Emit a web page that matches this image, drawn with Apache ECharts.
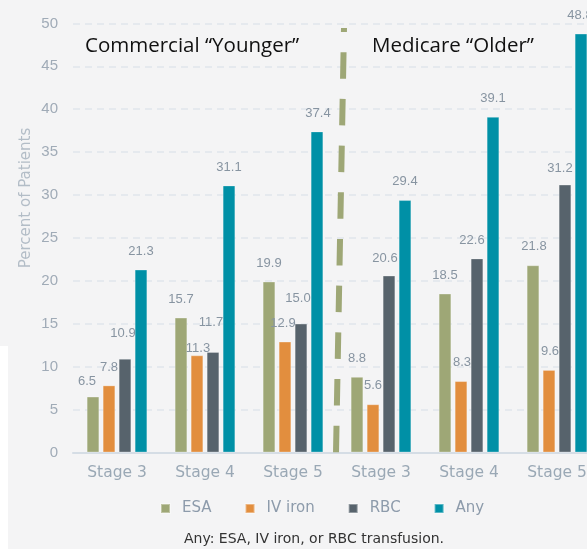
<!DOCTYPE html>
<html>
<head>
<meta charset="utf-8">
<script src="https://cdn.jsdelivr.net/npm/echarts@6/dist/echarts.min.js"></script>
<style>
html,body{margin:0;padding:0;background:#f4f4f5;}
#chart{width:587px;height:549px;}
</style>
</head>
<body>
<div id="chart"></div>
<script>
// ---- data ----
const categories = ['Stage 3', 'Stage 4', 'Stage 5', 'Stage 3', 'Stage 4', 'Stage 5'];
const seriesNames = ['ESA', 'IV iron', 'RBC', 'Any'];
const esa    = [6.5, 15.7, 19.9, 8.8, 18.5, 21.8];
const ivIron = [7.8, 11.3, 12.9, 5.6, 8.3, 9.6];
const rbc    = [10.9, 11.7, 15.0, 20.6, 22.6, 31.2];
const any    = [21.3, 31.1, 37.4, 29.4, 39.1, 48.8];
const yTicks = [0, 5, 10, 15, 20, 25, 30, 35, 40, 45, 50];
const groupTitles = ['Commercial \u201cYounger\u201d', 'Medicare \u201cOlder\u201d'];
const footnote = 'Any: ESA, IV iron, or RBC transfusion.';

// ---- label nudges (layout only) ----
const labelNudge = [
  [[-6, 3], [0, 0], [0, 0], [0, 0], [0, 0], [1, 0]],
  [[0, 0], [1, 11], [-2, 0], [0, 0], [1, 0], [1, 0]],
  [[-2, -7], [-2, -11], [-3, -7], [-4, 1], [-5, 0], [-5, 2]],
  [[0, 0], [0, 0], [1, 0], [0, 0], [0, 0], [-1, 0]]
];
const colors = ['#9ea776', '#e28e3e', '#57636c', '#0090a6'];
const values = [esa, ivIron, rbc, any];

const series = values.map((vals, si) => ({
  name: seriesNames[si],
  type: 'bar',
  barWidth: 12.5,
  barGap: '28%',
  itemStyle: { color: colors[si], borderColor: 'rgba(255,255,255,0.35)', borderWidth: 0.8 },
  label: {
    show: true, position: 'top', distance: 12,
    color: '#8794a1', fontSize: 13, fontFamily: 'Liberation Sans',
    formatter: p => Number(p.value).toFixed(1)
  },
  data: vals.map((v, i) => ({ value: v, label: { offset: labelNudge[si][i] } }))
}));

const chart = echarts.init(document.getElementById('chart'), null, { renderer: 'canvas' });
chart.setOption({
  backgroundColor: '#f4f4f5',
  animation: false,
  color: colors,
  grid: { left: 73, top: 23.4, width: 528, bottom: 96.6, containLabel: false, outerBoundsMode: 'none' },
  legend: {
    data: seriesNames, left: 160, top: 501, selectedMode: false, padding: 0,
    icon: 'rect', itemWidth: 9, itemHeight: 9, itemGap: 33,
    textStyle: { color: '#8d9bab', fontSize: 15, fontFamily: 'DejaVu Sans', padding: [0, 0, 0, 7] }
  },
  xAxis: {
    type: 'category', data: categories,
    axisTick: { show: false },
    axisLine: { lineStyle: { color: '#d5dde5', width: 2 } },
    axisLabel: { color: '#9aa8b5', fontSize: 15.5, fontFamily: 'DejaVu Sans', margin: 13 }
  },
  yAxis: {
    type: 'value', min: yTicks[0], max: yTicks[yTicks.length - 1], interval: 5,
    axisLine: { show: false }, axisTick: { show: false },
    axisLabel: { color: '#a0abb7', fontSize: 15, fontFamily: 'Liberation Sans', margin: 15 },
    splitLine: { lineStyle: { color: '#e0e5eb', width: 1.5, type: [7, 5] } }
  },
  series: series,
  graphic: [
    { type: 'rect', shape: { x: 0, y: 346, width: 8, height: 203 }, style: { fill: '#ffffff' }, silent: true },
    { type: 'line', shape: { x1: 344, y1: 28, x2: 336, y2: 453 },
      style: { stroke: '#9ea776', lineWidth: 6, lineDash: [26.5, 20.2], lineDashOffset: 22.5 }, z: 10, silent: true },
    { type: 'text', x: 85, y: 46, style: { text: groupTitles[0], fill: '#111', fontSize: 20.5, fontFamily: 'Open Sans', textVerticalAlign: 'middle' }, z: 20 },
    { type: 'text', x: 372, y: 46, style: { text: groupTitles[1], fill: '#111', fontSize: 20.5, fontFamily: 'Open Sans', textVerticalAlign: 'middle' }, z: 20 },
    { type: 'text', x: 26, y: 198, rotation: Math.PI / 2,
      style: { text: 'Percent of Patients', fill: '#b3bdc7', fontSize: 15, fontFamily: 'DejaVu Sans', textAlign: 'center', textVerticalAlign: 'middle' } },
    { type: 'text', x: 314, y: 539, style: { text: footnote, fill: '#333', fontSize: 14, fontFamily: 'DejaVu Sans', textAlign: 'center', textVerticalAlign: 'middle' } }
  ]
});
</script>
</body>
</html>
